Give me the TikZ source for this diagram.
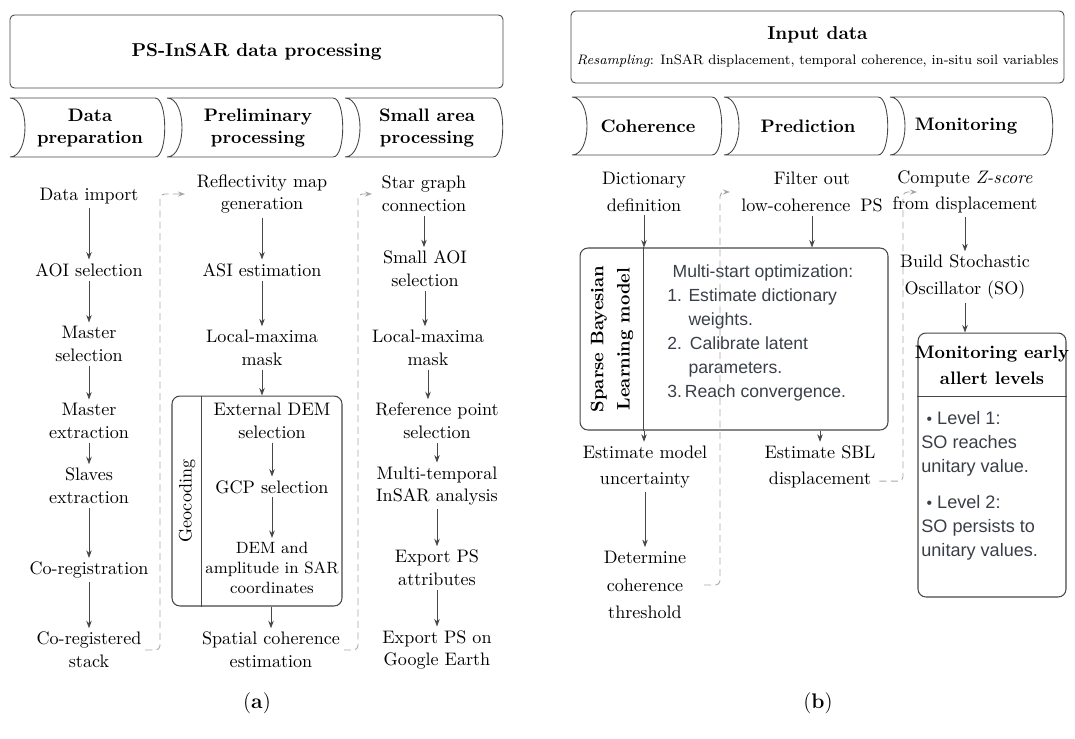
\documentclass[tikz,border=0pt]{standalone}
\usepackage{fontspec}
\setsansfont{Liberation Sans}
\usepackage{tikz}
\usetikzlibrary{arrows.meta,positioning}

\definecolor{edgegray}{HTML}{474747}
\definecolor{dashgray}{HTML}{A6A6A6}
\definecolor{notegray}{HTML}{3A3F47}

% phase banner: left x, right x, top y, bottom y
\newcommand{\phasebanner}[4]{%
  \draw[phaseline] (#1,#3) -- (#2,#3) .. controls (#2+13,#3) and (#2+13,#4) .. (#2,#4)
    -- (#1,#4) .. controls (#1+20,#4) and (#1+20,#3) .. (#1,#3) -- cycle;}

\begin{document}
\begin{tikzpicture}[x=0.02cm,y=-0.02cm,
  item/.style={align=center,inner sep=2pt,font=\fontsize{10.3}{13}\selectfont},
  itemb/.style={align=center,inner sep=2pt,font=\fontsize{10.3}{15}\selectfont},
  phasetext/.style={align=center,font=\fontsize{10.3}{13}\selectfont\bfseries},
  phaseline/.style={draw=edgegray,line width=0.5pt},
  titlebox/.style={draw=edgegray,line width=0.5pt,rounded corners=2.5pt,align=center},
  group/.style={draw=edgegray,line width=0.6pt,rounded corners=4.5pt,inner sep=0pt},
  note/.style={align=left,inner sep=0pt,text=notegray,font=\sffamily\fontsize{10}{13.7}\selectfont},
  arr/.style={-{Stealth[length=1.5mm,width=1.1mm]},edgegray,line width=0.45pt},
  dasharr/.style={-{Stealth[length=1.4mm,width=1mm]},dashgray,line width=0.5pt,
    dash pattern=on 4pt off 2.5pt,rounded corners=2.5pt}]
\useasboundingbox (0,0) rectangle (1075,738);

% ---------- (a) PS-InSAR ----------
\node[titlebox,minimum width=9.86cm,minimum height=1.46cm,font=\fontsize{10.6}{13}\selectfont\bfseries] (titleA) at (256.5,51.5) {PS-InSAR data processing};
\phasebanner{10}{155}{98}{157}
\phasebanner{167}{333}{98}{157}
\phasebanner{345}{493}{98}{157}
\node[phasetext] (phA1) at (90,128) {Data\\preparation};
\node[phasetext] (phA2) at (258,128) {Preliminary\\processing};
\node[phasetext] (phA3) at (427,128) {Small area\\processing};

\node[item] (n11) at (89,196) {Data import};
\node[item] (n12) at (89,270) {AOI selection};
\node[item] (n13) at (89,344) {Master\\selection};
\node[item] (n14) at (89,421) {Master\\extraction};
\node[item] (n15) at (89,486) {Slaves\\extraction};
\node[item] (n16) at (89,570) {Co-registration};
\node[item] (n17) at (89,650) {Co-registered\\stack};
\foreach \a/\b in {n11/n12,n12/n13,n13/n14,n14/n15,n15/n16,n16/n17}
  \draw[arr] (\a.south) -- (\a.south |- \b.north);

\node[item] (n21) at (262,194) {Reflectivity map\\generation};
\node[item] (n22) at (262,270) {ASI estimation};
\node[item] (n23) at (262,348) {Local-maxima\\mask};
\node[group,minimum width=3.4cm,minimum height=4.2cm] (geo) at (257,501) {};
\draw[edgegray,line width=0.5pt] ([xshift=0.6cm]geo.north west) -- ([xshift=0.6cm]geo.south west);
\node[item,rotate=90] (geolab) at (187,501) {Geocoding};
\node[item] (n24) at (272,421) {External DEM\\selection};
\node[item] (n25) at (272,487) {GCP selection};
\node[item,font=\fontsize{9.3}{11.6}\selectfont] (n26) at (272,568) {DEM and\\amplitude in SAR\\coordinates};
\node[item] (n27) at (271,650) {Spatial coherence\\estimation};
\draw[arr] (n21.south) -- (n21.south |- n22.north);
\draw[arr] (n22.south) -- (n22.south |- n23.north);
\draw[arr] (n23.south) -- (n23.south |- geo.north);
\draw[arr] (n24.south) -- (n24.south |- n25.north);
\draw[arr] (n25.south) -- (n25.south |- n26.north);
\draw[arr] (n27.north |- geo.south) -- (n27.north);

\node[item] (n31) at (424,194) {Star graph\\connection};
\node[item] (n32) at (425,269) {Small AOI\\selection};
\node[item] (n33) at (428,348) {Local-maxima\\mask};
\node[item] (n34) at (437,421) {Reference point\\selection};
\node[item] (n35) at (437,486) {Multi-temporal\\InSAR analysis};
\node[item] (n36) at (437,568) {Export PS\\attributes};
\node[item] (n37) at (437,650) {Export PS on\\Google Earth};
\foreach \a/\b in {n31/n32,n32/n33,n33/n34,n34/n35,n35/n36,n36/n37}
  \draw[arr] (\a.south) -- (\a.south |- \b.north);

\coordinate (bendA1) at (160,0); \coordinate (tipA1) at (185,0);
\coordinate (bendA2) at (358,0); \coordinate (tipA2) at (372,0);
\draw[dasharr] (n17.east) -| (bendA1 |- n21.west) -- (tipA1 |- n21.west);
\draw[dasharr] (n27.east) -| (bendA2 |- n31.west) -- (tipA2 |- n31.west);

% ---------- (b) SBL ----------
\node[titlebox,minimum width=9.86cm,minimum height=1.44cm,inner xsep=1pt,font=\fontsize{7.8}{13}\selectfont] (titleB) at (817.5,47)
  {{\fontsize{10.6}{13}\selectfont\bfseries Input data}\\[1pt]\textit{Resampling}: InSAR displacement, temporal coherence, in-situ soil variables};
\phasebanner{572}{712}{97}{155}
\phasebanner{724}{878}{97}{155}
\phasebanner{890}{1043}{97}{155}
\node[phasetext] (phB1) at (648,126) {Coherence};
\node[phasetext] (phB2) at (808,126) {Prediction};
\node[phasetext] (phB3) at (966,126) {Monitoring};

\node[itemb] (m11) at (644,192) {Dictionary\\definition};
\node[group,minimum width=6.16cm,minimum height=3.64cm] (sbl) at (734,339) {};
\draw[edgegray,line width=0.5pt] ([xshift=1.28cm]sbl.north west) -- ([xshift=1.28cm]sbl.south west);
\node[itemb,rotate=90,font=\fontsize{10.3}{15}\selectfont\bfseries] (sbllab) at (612,339) {Sparse Bayesian\\Learning model};
\node[note,anchor=west] (sbltxt) at (667,333)
  {\hspace{3pt}Multi-start optimization:\\
   1. Estimate dictionary\\
   \phantom{1. }weights.\\
   2.\hspace{0.45em}Calibrate latent\\
   \phantom{1. }parameters.\\
   3.\,Reach convergence.};
\node[itemb] (m12) at (645,467) {Estimate model\\uncertainty};
\node[itemb,font=\fontsize{10.3}{15.8}\selectfont] (m13) at (645,585) {Determine\\coherence\\threshold};
\draw[arr] (m11.south) -- (m11.south |- sbl.north);
\draw[arr] (m11.south |- sbl.south) -- (m11.south |- m12.north);
\draw[arr] (m12.south) -- (m12.south |- m13.north);

\node[itemb] (m21) at (812,192) {Filter out\\low-coherence\hspace{0.55em}PS};
\node[itemb] (m22) at (820,467) {Estimate SBL\\displacement};
\draw[arr] (m21.south) -- (m21.south |- sbl.north);
\draw[arr] (m22.north |- sbl.south) -- (m22.north);

\node[itemb] (m31) at (965,192) {Compute \textit{Z-score}\\from displacement};
\node[itemb] (m32) at (965,277) {Build Stochastic\\Oscillator (SO)};
\node[group,minimum width=2.96cm,minimum height=5.28cm] (mon) at (992,465) {};
\draw[edgegray,line width=0.5pt] ([yshift=-1.28cm]mon.north west) -- ([yshift=-1.28cm]mon.north east);
\node[itemb,font=\fontsize{10.3}{15}\selectfont\bfseries] (monhead) at (992,365) {Monitoring early\\allert levels};
\node[note,anchor=north west,font=\sffamily\fontsize{10.3}{13.6}\selectfont] (montxt) at (921,411)
  {\hspace{3pt}{\small\textbullet}~Level 1:\\SO reaches\\unitary value.\\[7pt]
   \hspace{3pt}{\small\textbullet}~Level 2:\\SO persists to\\unitary values.};
\draw[arr] (m31.south) -- (m31.south |- m32.north);
\draw[arr] (m32.south) -- (m32.south |- mon.north);

\coordinate (bendB1) at (720,0); \coordinate (tipB1) at (730,0);
\coordinate (bendB2) at (903,0); \coordinate (tipB2) at (917,0);
\draw[dasharr] ([xshift=8pt]m13.east) -| (bendB1 |- m21.west) -- (tipB1 |- m21.west);
\draw[dasharr] ([yshift=-8pt]m22.east) -| (bendB2 |- m31.west) -- (tipB2 |- m31.west);

\node[font=\fontsize{12}{14}\selectfont] (labA) at (257,703) {(\textbf{a})};
\node[font=\fontsize{12}{14}\selectfont] (labB) at (818,703) {(\textbf{b})};
\end{tikzpicture}
\end{document}
